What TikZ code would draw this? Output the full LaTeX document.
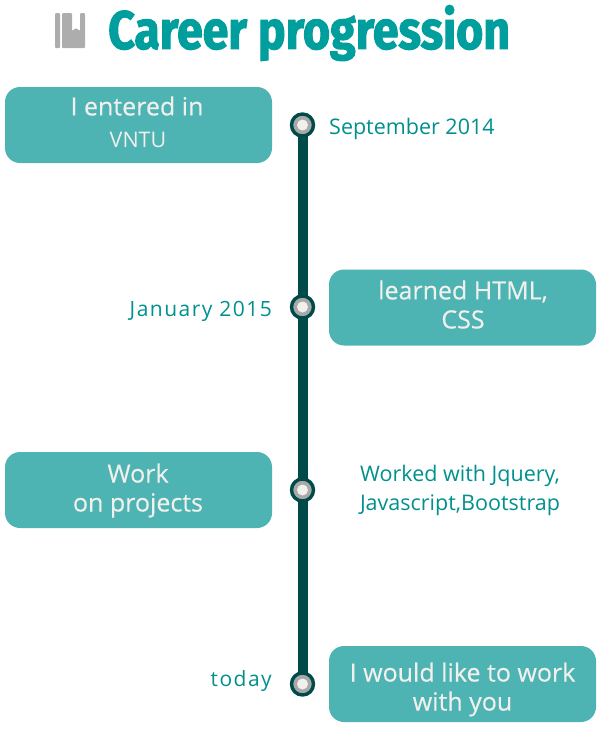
\documentclass[tikz,border=0pt]{standalone}
\usepackage{fontspec}
\setmainfont{Open Sans}
\newfontfamily\titlefont[FakeStretch=0.86,FakeBold=2]{Fira Sans Bold}
\newfontfamily\boxfont[FakeBold=0.35]{Open Sans}
\definecolor{tealtext}{HTML}{00908E}
\definecolor{tealtitle}{HTML}{009E9C}
\definecolor{tealbox}{HTML}{4DB3B3}
\definecolor{darkline}{HTML}{004A4A}
\definecolor{ringgrey}{HTML}{A9A9A9}
\definecolor{iconform}{HTML}{ADADAD}
\definecolor{boxtext}{HTML}{F0F0EC}
\usetikzlibrary{backgrounds}
\tikzset{
  eventbox/.style={fill=tealbox,rounded corners=15pt,minimum width=267pt,minimum height=76pt,inner sep=0pt},
  boxwords/.style={text=boxtext,inner sep=0pt,align=center,font=\boxfont\fontsize{25}{29}\selectfont},
  datelabel/.style={text=tealtext,inner sep=0pt,font=\fontsize{21.5}{29}\selectfont},
  widedate/.style={datelabel,font=\addfontfeature{LetterSpace=7}\fontsize{21}{29}\selectfont},
  dotmark/.style={circle,draw=darkline,line width=3.4pt,fill=ringgrey,minimum size=22pt,inner sep=0pt,
    path picture={\fill[boxtext] (path picture bounding box.center) circle (5.5pt);}},
}
\begin{document}
\begin{tikzpicture}[x=1pt,y=-1pt]
  \useasboundingbox (0,0) rectangle (600,737);
  % timeline
  \node[dotmark] (dotone) at (302.5,125) {};
  \node[dotmark] (dottwo) at (302.5,307) {};
  \node[dotmark] (dotthree) at (302.5,490) {};
  \node[dotmark] (dotfour) at (302.5,684) {};
  \begin{scope}[on background layer]
    \draw[darkline,line width=10pt] (dotone.center) -- (dotfour.center);
  \end{scope}
  % boxes
  \node[eventbox] (entered) at (138.5,125) {};
  \node[eventbox] (learned) at (462.5,307.5) {};
  \node[eventbox] (projects) at (138.5,490) {};
  \node[eventbox] (future) at (462.5,684) {};
  \node[boxwords] (enteredtext) at (137,106) {I entered in};
  \node[datelabel,text=boxtext] (vntu) at (138,140) {VNTU};
  \node[boxwords] (learnedtext) at (463,304.5) {learned HTML,\\CSS};
  \node[boxwords] (projectstext) at (138,490.5) {Work\\on projects};
  \node[boxwords] (futuretext) at (462.5,689.5) {I would like to work\\with you};
  % dates
  \node[datelabel,anchor=west] (sept) at (329,129) {September 2014};
  \node[widedate,anchor=east] (jan) at (272,311) {January 2015};
  \node[datelabel,align=center] (worked) at (460,490.5)
    {Worked with Jquery,\\Javascript,Bootstrap};
  \node[widedate,anchor=east] (today) at (272,681) {today};
  % title
  \node[text=tealtitle,anchor=west,inner sep=0pt,font=\titlefont\fontsize{54}{58}\selectfont] (title) at (108,33)
    {Career progression};
  % book icon
  \fill[iconform,rounded corners=1pt] (55,13) rectangle (60,48);
  \fill[iconform,rounded corners=1pt] (62,13) -- (72,13) -- (72,31) -- (76,28) -- (80,31) -- (80,13)
    -- (85,13) -- (85,48) -- (62,48) -- cycle;
\end{tikzpicture}
\end{document}
